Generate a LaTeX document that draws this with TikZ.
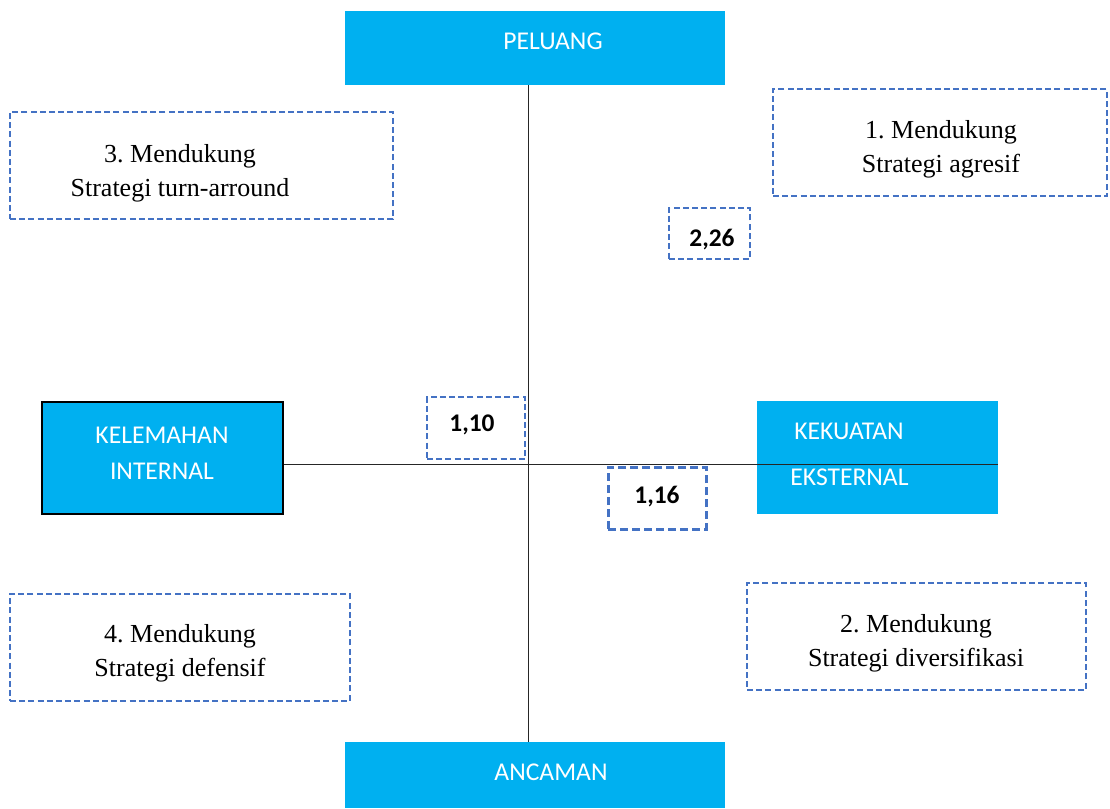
\documentclass[tikz,border=0pt]{standalone}
\usepackage{fontspec}
\setmainfont{Carlito}
\newfontfamily\timesfont{Liberation Serif}
\usetikzlibrary{positioning}
\definecolor{boxcyan}{HTML}{00B0F0}
\definecolor{dashblue}{HTML}{4472C4}
\frenchspacing

\begin{document}
\begin{tikzpicture}[
      x = 0.5pt, y = -0.5pt,
      axis/.style = { draw = black!85, line width = 0.5pt },
      quadrant/.style = { fill = boxcyan, inner sep = 0pt },
      caption/.style = {
        text = white, inner sep = 0pt, align = center,
        font = \fontsize{12.8}{18}\selectfont
      },
      dashbox/.style = {
        draw = dashblue, line width = 0.9pt, inner sep = 0pt,
        dash pattern = on 3pt off 1.6pt
      },
      strategy/.style = {
        inner sep = 0pt, align = center,
        font = \timesfont\fontsize{13}{17}\selectfont
      },
      score/.style = { inner sep = 0pt, font = \bfseries\fontsize{12.7}{15}\selectfont },
    ]
    \useasboundingbox (0,0) rectangle (1110,809);

    % axis boxes
    \node[quadrant, minimum width = 190pt, minimum height = 37pt] (peluang) at (535,48) {};
    \node[caption] (peluang-text) at (553,41) {PELUANG};
    \node[quadrant, minimum width = 190pt, minimum height = 33pt] (ancaman) at (535,775) {};
    \node[caption] (ancaman-text) at (551,772) {ANCAMAN};
    \node[quadrant, draw = black, line width = 1.2pt,
          minimum width = 120.5pt, minimum height = 56pt] (kelemahan) at (162.5,458) {};
    \node[caption] (kelemahan-text) at (162,453) {KELEMAHAN\\INTERNAL};
    \node[quadrant, minimum width = 120.5pt, minimum height = 56.5pt] (kekuatan) at (877.5,457.5) {};
    \node[caption, anchor = west] (kekuatan-text) at (794,431) {KEKUATAN};
    \node[caption, anchor = west] (eksternal-text) at (790,477) {EKSTERNAL};

    % axes
    \coordinate (origin) at (528,464);
    \draw[axis] (peluang.south -| origin) -- (ancaman.north -| origin);
    \draw[axis] (kelemahan.east |- origin) -- (kekuatan.east |- origin);

    % strategies
    \node[dashbox, minimum width = 191.5pt, minimum height = 53.5pt] (turn) at (201.5,165.5) {};
    \node[strategy] (turn-text) at (180,173) {3. Mendukung\\Strategi turn-arround};
    \node[dashbox, minimum width = 167pt, minimum height = 53.5pt] (agresif) at (940,142.5) {};
    \node[strategy] (agresif-text) at (941,149) {1. Mendukung\\Strategi agresif};
    \node[dashbox, minimum width = 170pt, minimum height = 53.5pt] (defensif) at (180,647.5) {};
    \node[strategy] (defensif-text) at (180,653) {4. Mendukung\\Strategi defensif};
    \node[dashbox, minimum width = 169.5pt, minimum height = 53.5pt] (diversifikasi) at (916.5,636.5) {};
    \node[strategy] (diversifikasi-text) at (916,643) {2. Mendukung\\Strategi diversifikasi};

    % scores
    \node[dashbox, minimum width = 40.5pt, minimum height = 25.5pt] (s226) at (709.5,233.5) {};
    \node[score] at (712,240) {2,26};
    \node[dashbox, minimum width = 49pt, minimum height = 31pt] (s110) at (476,428) {};
    \node[score] at (472,425) {1,10};
    \node[dashbox, line width = 1.5pt, dash pattern = on 4pt off 2pt,
          minimum width = 49pt, minimum height = 31pt] (s116) at (657,498) {};
    \node[score] at (657,497) {1,16};
  \end{tikzpicture}
\end{document}
